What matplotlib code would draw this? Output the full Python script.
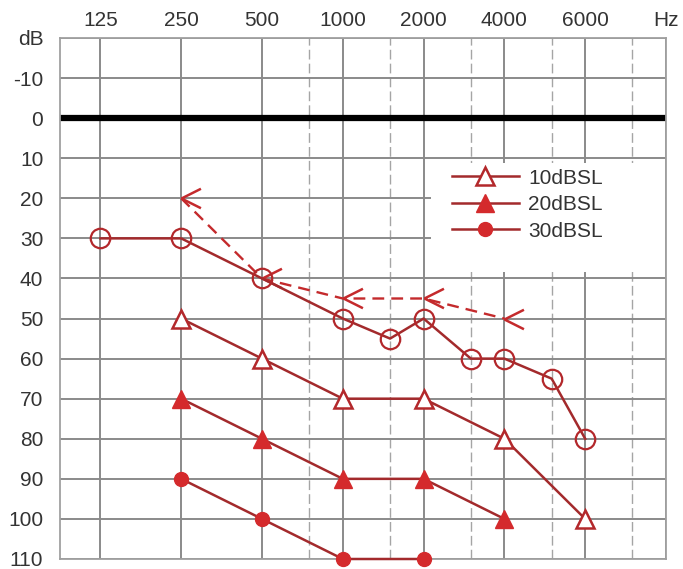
import matplotlib
matplotlib.use("Agg")
import matplotlib.pyplot as plt
from matplotlib.path import Path
from matplotlib.patches import Rectangle

# Frequencies (Hz) and hearing levels (dB HL)
freq_labels = ["125", "250", "500", "1000", "2000", "4000", "6000", "Hz"]
octave_freqs = [125, 250, 500, 1000, 2000, 4000, 8000, 16000]
half_octave_freqs = [750, 1500, 3000, 6000, 12000]
db_ticks = [-20, -10, 0, 10, 20, 30, 40, 50, 60, 70, 80, 90, 100, 110]
db_labels = ["dB", "-10", "0", "10", "20", "30", "40", "50", "60", "70",
             "80", "90", "100", "110"]

# Air-conduction threshold (open circles)
thr_freq = [125, 250, 500, 1000, 1500, 2000, 3000, 4000, 6000, 8000]
thr_db = [30, 30, 40, 50, 55, 50, 60, 60, 65, 80]

# Bone-conduction / masked symbols ("<") joined by a dashed line
bc_freq = [250, 500, 1000, 2000, 4000]
bc_db = [20, 40, 45, 45, 50]

# Sensation-level curves
sl10_freq = [250, 500, 1000, 2000, 4000, 8000]
sl10_db = [50, 60, 70, 70, 80, 100]
sl20_freq = [250, 500, 1000, 2000, 4000]
sl20_db = [70, 80, 90, 90, 100]
sl30_freq = [250, 500, 1000, 2000]
sl30_db = [90, 100, 110, 110]

plt.rcParams["font.family"] = ["Liberation Sans", "DejaVu Sans"]

W, H = 683, 569
fig = plt.figure(figsize=(W / 100, H / 100), dpi=100)
left, right, top, bottom = 60, 666, 38, 559
ax = fig.add_axes([left / W, 1 - bottom / H, (right - left) / W, (bottom - top) / H])

ax.set_xscale("log", base=2)
ax.set_xlim(125 / 2 ** 0.5, 16000)
ax.set_ylim(110, -20)

grid_col = "#8a8a8a"
text_col = "#333333"
line_col = "#a32a2c"
mark_col = "#d42a2c"
edge_col = "#b3282b"

# Axes ticks and labels
ax.xaxis.tick_top()
ax.set_xticks(octave_freqs)
ax.set_xticklabels(freq_labels)
ax.set_xticks(half_octave_freqs, minor=True)
ax.xaxis.set_minor_formatter(matplotlib.ticker.NullFormatter())
ax.set_yticks(db_ticks)
ax.set_yticklabels(db_labels)
ax.tick_params(axis="both", which="both", length=0, labelsize=15, colors=text_col)
ax.tick_params(axis="x", pad=6)
ax.tick_params(axis="y", pad=12)

# Grid
ax.grid(True, axis="y", which="major", color=grid_col, lw=1.4, zorder=0)
ax.grid(True, axis="x", which="major", color=grid_col, lw=1.4, zorder=0)
ax.grid(True, axis="x", which="minor", color="#a5a5a5", lw=1.0,
        linestyle=(0, (7, 3)), zorder=0)
ax.set_axisbelow(True)
for s in ax.spines.values():
    s.set_color("#a0a0a0")
    s.set_linewidth(1.3)

# 0 dB reference
ax.axhline(0, color="black", lw=4.5, zorder=2)

# Blank panel behind the legend
ax.add_patch(Rectangle((0.612, 0.551), 0.386, 0.21, transform=ax.transAxes,
                       facecolor="white", edgecolor="none", zorder=1.5))

# "<" symbol with its apex on the data point
bc_marker = Path([(0, 0), (1, 0.5), (0, 0), (1, -0.5)],
                 [Path.MOVETO, Path.LINETO, Path.MOVETO, Path.LINETO])

ax.plot(bc_freq, bc_db, color="#c42a2c", lw=1.7, linestyle=(0, (5, 3)),
        marker=bc_marker, markersize=28, markeredgewidth=1.8,
        markeredgecolor="#c42a2c", zorder=3)

ax.plot(thr_freq, thr_db, color=line_col, lw=1.8, marker="o", markersize=14,
        markerfacecolor="none", markeredgecolor=edge_col, markeredgewidth=1.6,
        zorder=4)

ax.plot(sl10_freq, sl10_db, color=line_col, lw=1.8, marker="^", markersize=13,
        markerfacecolor="white", markeredgecolor=edge_col, markeredgewidth=1.8,
        zorder=4, label="10dBSL")
ax.plot(sl20_freq, sl20_db, color=line_col, lw=1.8, marker="^", markersize=13,
        markerfacecolor=mark_col, markeredgecolor=mark_col, zorder=4,
        label="20dBSL")
ax.plot(sl30_freq, sl30_db, color=line_col, lw=1.8, marker="o", markersize=10,
        markerfacecolor=mark_col, markeredgecolor=mark_col, zorder=4,
        label="30dBSL", clip_on=False)

leg = ax.legend(loc="upper left", bbox_to_anchor=(0.64, 0.757), frameon=False,
                fontsize=15, handlelength=3.2, handletextpad=0.45,
                labelspacing=0.36, borderpad=0.2, borderaxespad=0)
for t in leg.get_texts():
    t.set_color(text_col)

fig.savefig("out.png", dpi=100)
